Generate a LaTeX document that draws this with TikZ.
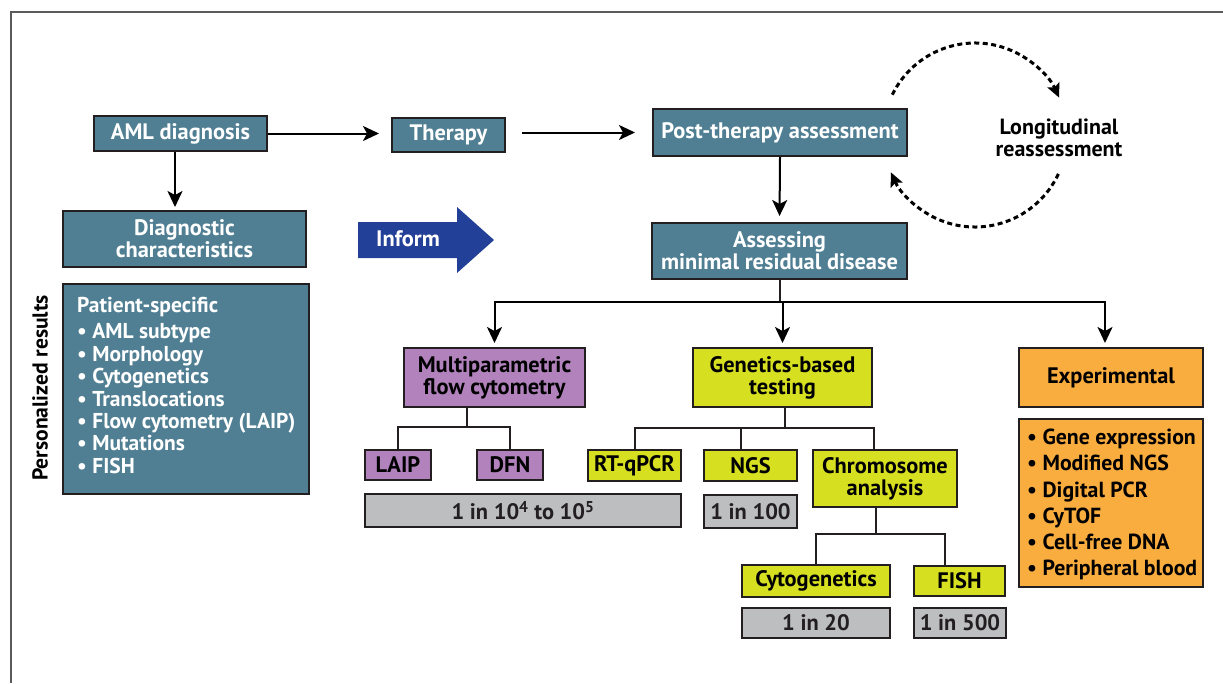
\documentclass[tikz,border=0pt]{standalone}
\usepackage{fontspec}
\setmainfont{PT Sans}
\usetikzlibrary{arrows.meta,calc,positioning}

\definecolor{edge}{RGB}{35,31,32}
\definecolor{tealbg}{RGB}{80,127,147}
\definecolor{purplebg}{RGB}{177,130,188}
\definecolor{limebg}{RGB}{215,223,33}
\definecolor{orangebg}{RGB}{250,173,63}
\definecolor{greybg}{RGB}{188,190,192}
\definecolor{informbg}{RGB}{34,64,151}
\definecolor{framec}{RGB}{90,90,90}

\begin{document}
\begin{tikzpicture}[x=1pt, y=-1pt,
    box/.style={draw=edge, line width=2pt, align=center, inner sep=0pt,
        font=\fontsize{22.4}{22}\selectfont\bfseries},
    tealbox/.style={box, fill=tealbg, text=white},
    purplebox/.style={box, fill=purplebg, text=black},
    limebox/.style={box, fill=limebg, text=black},
    orangebox/.style={box, fill=orangebg, text=black},
    greybox/.style={box, fill=greybg, text=edge},
    arr/.style={line width=2pt, -{Stealth[length=16pt,width=15pt,inset=4pt]}},
    link/.style={line width=2pt, draw=edge},
    loop/.style={line width=3pt, dash pattern=on 5pt off 3.5pt,
        -{Stealth[length=14pt,width=13pt,inset=3pt]}}]

    \useasboundingbox (0,0) rectangle (1223,683);

    % Frame
    \draw[framec, line width=1.5pt] (11,683) -- (11,12) -- (1223,12);

    % Top row
    \node[tealbox, minimum width=173pt, minimum height=35pt] (aml) at (180.5,133.5) {AML diagnosis};
    \node[tealbox, minimum width=113pt, minimum height=34pt] (ther) at (448.5,135) {Therapy};
    \node[tealbox, minimum width=254pt, minimum height=47pt] (post) at (780,132.5) {Post-therapy assessment};

    % Left column
    \node[tealbox, minimum width=243pt, minimum height=56pt] (diag) at (184.5,239) {Diagnostic\\characteristics};
    \node[tealbox, minimum width=246pt, minimum height=210pt] (pat) at (186,389) {};
    \node[anchor=north west, align=left, inner sep=0pt, text=white,
        font=\fontsize{21.5}{22.4}\selectfont\bfseries] (patlist) at (77,297)
        {Patient-specific\\[4pt]• AML subtype\\• Morphology\\• Cytogenetics\\• Translocations\\• Flow cytometry (LAIP)\\• Mutations\\• FISH};
    \node[rotate=90, font=\fontsize{21.6}{22}\selectfont\bfseries] (pers) at (40,388) {Personalized results};

    % Inform arrow
    \fill[informbg] (358,222) -- (457,222) -- (457,207) -- (494,240) -- (457,273) -- (457,258) -- (358,258) -- cycle;
    \node[text=white, font=\fontsize{22.4}{22}\selectfont\bfseries] (inform) at (408,239) {Inform};

    % Minimal residual disease
    \node[tealbox, minimum width=255pt, minimum height=56pt] (mrd) at (779.5,251) {Assessing\\minimal residual disease};

    % Longitudinal reassessment loop
    \node[align=center, font=\fontsize{22}{22.5}\selectfont\bfseries] (longi) at (1059,138) {Longitudinal\\reassessment};
    \coordinate (loopc) at (975,135);
    \draw[loop] ([shift={(154:92pt)}]loopc) arc[start angle=154, end angle=24, radius=92pt];
    \draw[loop] ([shift={(-25:92pt)}]loopc) arc[start angle=-25, end angle=-156, radius=92pt];

    % Methods
    \node[purplebox, minimum width=181pt, minimum height=59pt] (mfc) at (494.5,377.5) {Multiparametric\\flow cytometry};
    \node[limebox, minimum width=179pt, minimum height=59pt] (gen) at (782.5,377.5) {Genetics-based\\testing};
    \node[orangebox, minimum width=184pt, minimum height=59pt] (exp) at (1111,377.5) {Experimental};
    \node[orangebox, minimum width=184pt, minimum height=168pt] (explist) at (1111,503) {};
    \node[anchor=north west, align=left, inner sep=0pt,
        font=\fontsize{21.8}{26.2}\selectfont\bfseries] (explistt) at (1027,429)
        {• Gene expression\\• Modified NGS\\• Digital PCR\\• CyTOF\\• Cell-free DNA\\• Peripheral blood};

    % Sub-methods
    \node[purplebox, minimum width=66pt, minimum height=30pt] (laip) at (398,465) {LAIP};
    \node[purplebox, minimum width=66pt, minimum height=30pt] (dfn) at (510,465) {DFN};
    \node[limebox, minimum width=93pt, minimum height=31pt] (rt) at (634.5,465.5) {RT-qPCR};
    \node[limebox, minimum width=93pt, minimum height=31pt] (ngs) at (750.5,465.5) {NGS};
    \node[limebox, minimum width=144pt, minimum height=57pt] (chrom) at (885,478.5) {Chromosome\\analysis};
    \node[limebox, minimum width=148pt, minimum height=32pt] (cyto) at (816,581) {Cytogenetics};
    \node[limebox, minimum width=91pt, minimum height=30pt] (fish) at (959.5,581) {FISH};

    % Sensitivities
    \node[greybox, minimum width=316pt, minimum height=33pt] (sens1) at (523,510.5) {1 in 10\textsuperscript{4} to 10\textsuperscript{5}};
    \node[greybox, minimum width=93pt, minimum height=33pt] (sens2) at (750.5,511.5) {1 in 100};
    \node[greybox, minimum width=148pt, minimum height=30pt] (sens3) at (816,623) {1 in 20};
    \node[greybox, minimum width=92pt, minimum height=30pt] (sens4) at (960,623) {1 in 500};

    % Main flow
    \draw[arr, shorten >=12pt] (aml.east) -- (aml.east -| ther.west);
    \draw[arr, shorten <=16pt, shorten >=17pt] (post.west -| ther.east) -- (post.west);
    \draw[arr, shorten >=3pt] ([xshift=-5.5pt]aml.south) -- ([xshift=-5.5pt]aml.south |- diag.north);
    \draw[arr, shorten >=6pt] (post.south) -- (mrd.north);

    % MRD split
    \coordinate (mrdsplit) at (779.5,302);
    \draw[link] (mrd.south) -- (mrdsplit);
    \draw[arr, shorten >=4pt] (mrdsplit) -| (mfc.north);
    \draw[arr, shorten >=4pt] (mrdsplit) -| (gen.north);
    \draw[arr, shorten >=4pt] (mrdsplit) -| ([xshift=-6pt]exp.north);

    % Flow cytometry split
    \coordinate (mfcsplit) at (467,427);
    \draw[link] (mfcsplit |- mfc.south) -- (mfcsplit);
    \draw[link] (laip.north) |- (mfcsplit) -| (dfn.north);

    % Genetics split
    \coordinate (gensplit) at (785,428);
    \draw[link] (gensplit |- gen.south) -- (gensplit);
    \draw[link] (rt.north) |- (gensplit) -| ([xshift=-11pt]chrom.north);
    \draw[link] ([xshift=-9.5pt]ngs.north) -- ([xshift=-9.5pt]ngs.north |- gensplit);

    % Chromosome split
    \coordinate (chromsplit) at (876,534);
    \draw[link] (chromsplit |- chrom.south) -- (chromsplit);
    \draw[link] (cyto.north) |- (chromsplit) -| ([xshift=-14.5pt]fish.north);
\end{tikzpicture}
\end{document}
